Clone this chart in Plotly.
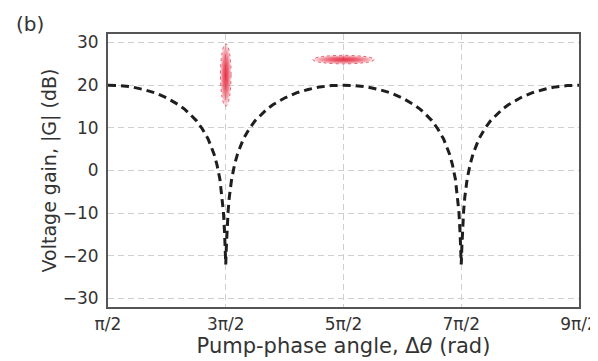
import plotly.graph_objects as go

# Pump-phase angle in units of pi, and voltage gain (dB)
phase_pi = [0.5, 0.6, 0.7, 0.8, 0.9, 1.0, 1.1, 1.15, 1.2, 1.25, 1.3, 1.35, 1.4, 1.425, 1.45, 1.47, 1.48, 1.49, 1.495,
            1.5, 1.505, 1.51, 1.52, 1.53, 1.55, 1.575, 1.6, 1.65, 1.7, 1.75, 1.8, 1.85, 1.9, 2.0, 2.1, 2.2, 2.3, 2.4,
            2.5, 2.6, 2.7, 2.8, 2.9, 3.0, 3.1, 3.15, 3.2, 3.25, 3.3, 3.35, 3.4, 3.425, 3.45, 3.47, 3.48, 3.49, 3.495,
            3.5, 3.505, 3.51, 3.52, 3.53, 3.55, 3.575, 3.6, 3.65, 3.7, 3.75, 3.8, 3.85, 3.9, 4.0, 4.1, 4.2, 4.3, 4.4, 4.5]
gain_db = [20.0, 19.9, 19.6, 19.0, 18.2, 17.0, 15.4, 14.4, 13.1, 11.7, 9.8, 7.4, 3.9, 1.4, -2.0, -6.3, -9.6, -14.6, -17.9,
           -22.0, -17.9, -14.6, -9.6, -6.3, -2.0, 1.4, 3.9, 7.4, 9.8, 11.7, 13.1, 14.4, 15.4, 17.0, 18.2, 19.0, 19.6, 19.9,
           20.0, 19.9, 19.6, 19.0, 18.2, 17.0, 15.4, 14.4, 13.1, 11.7, 9.8, 7.4, 3.9, 1.4, -2.0, -6.3, -9.6, -14.6, -17.9,
           -22.0, -17.9, -14.6, -9.6, -6.3, -2.0, 1.4, 3.9, 7.4, 9.8, 11.7, 13.1, 14.4, 15.4, 17.0, 18.2, 19.0, 19.6, 19.9, 20.0]

# Measured data clouds (ellipses): centre and half-extent
cloud_x = [1.5, 2.5]
cloud_y = [22.4, 26.0]
cloud_dx = [0.045, 0.26]
cloud_dy = [7.3, 1.0]

tick_vals = [0.5, 1.5, 2.5, 3.5, 4.5]
tick_text = ["\u03c0/2", "3\u03c0/2", "5\u03c0/2", "7\u03c0/2", "9\u03c0/2"]
y_ticks = [-30, -20, -10, 0, 10, 20, 30]

fig = go.Figure()
fig.add_trace(go.Scatter(x=phase_pi, y=gain_db, mode="lines",
                         line=dict(color="#1e1e1e", width=3, dash="8px,5px"),
                         showlegend=False, hoverinfo="skip"))

shapes = []
n_layers = 14
for cx, cy, dx, dy in zip(cloud_x, cloud_y, cloud_dx, cloud_dy):
    for i in range(n_layers):
        f = 1.0 - i / n_layers
        shapes.append(dict(type="circle", xref="x", yref="y",
                           x0=cx - dx * f, x1=cx + dx * f, y0=cy - dy * f, y1=cy + dy * f,
                           fillcolor="rgba(235,30,55,0.13)", line=dict(width=0), layer="above"))
    shapes.append(dict(type="circle", xref="x", yref="y",
                       x0=cx - dx, x1=cx + dx, y0=cy - dy, y1=cy + dy,
                       fillcolor="rgba(0,0,0,0)",
                       line=dict(color="rgba(225,60,80,0.8)", width=1, dash="dot"), layer="above"))

axis_common = dict(showline=True, linecolor="#555555", linewidth=2, mirror=True,
                   showgrid=True, gridcolor="#cfcfcf", griddash="6px,4px", gridwidth=1,
                   zeroline=False, ticks="outside", tickcolor="rgba(0,0,0,0)",
                   ticklabeloverflow="allow",
                   tickfont=dict(family="DejaVu Sans", size=17, color="#333333"))

# The page body adds an 8px offset, so the figure is sized to fit the window.
fig.update_layout(
    width=590, height=353,
    margin=dict(l=100, r=19, t=26, b=54),
    paper_bgcolor="white", plot_bgcolor="white",
    shapes=shapes,
    xaxis=dict(range=[0.5, 4.5], tickvals=tick_vals, ticktext=tick_text, automargin=False, ticklen=1,
               title=dict(text="Pump-phase angle, \u0394<i>\u03b8</i> (rad)", standoff=0,
                          font=dict(family="DejaVu Sans", size=21, color="#333333")),
               **axis_common),
    yaxis=dict(range=[-32, 32], tickvals=y_ticks, automargin=True, ticklen=4,
               title=dict(text="Voltage gain, |G| (dB)", standoff=1,
                          font=dict(family="DejaVu Sans", size=19, color="#333333")),
               **axis_common),
    annotations=[dict(text="(b)", xref="paper", yref="paper", x=-0.2, y=1.038,
                      xanchor="left", yanchor="middle", showarrow=False,
                      font=dict(family="DejaVu Sans", size=20, color="#333333"))],
)

fig.write_html("out.html")
